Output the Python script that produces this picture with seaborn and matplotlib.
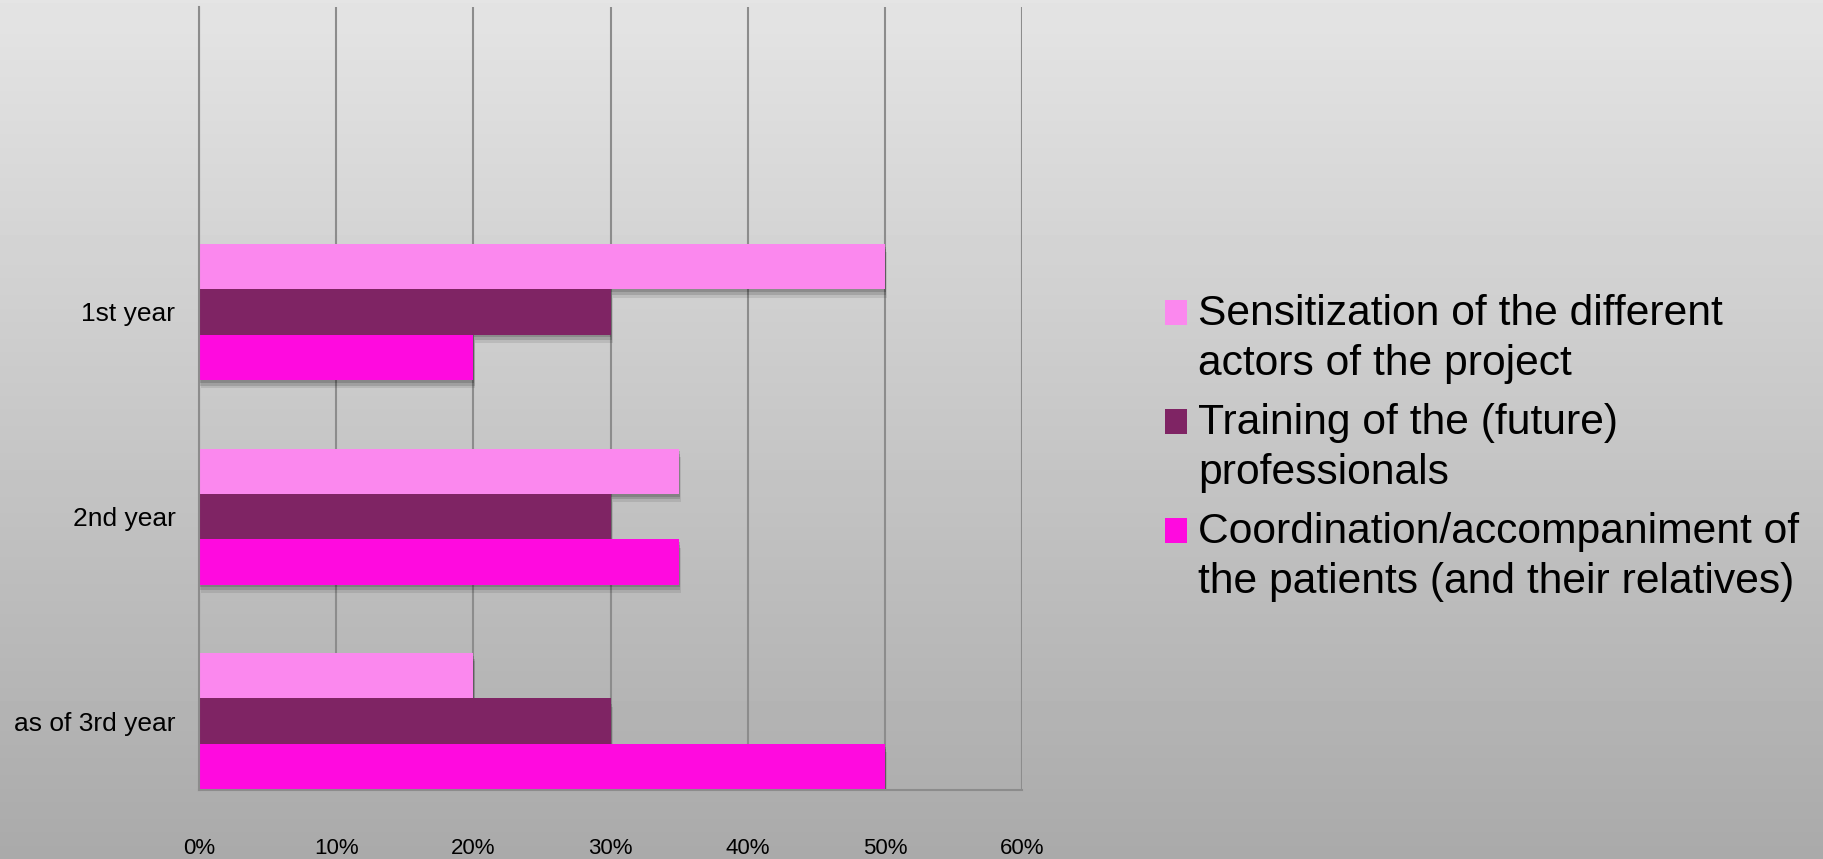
import numpy as np
import pandas as pd
import seaborn as sns
import matplotlib.pyplot as plt
from matplotlib import patheffects as pe
from matplotlib.patches import Patch, Rectangle
from matplotlib.legend_handler import HandlerPatch

categories = ["1st year", "2nd year", "as of 3rd year"]
series_names = [
    "Sensitization of the different\nactors of the project",
    "Training of the (future)\nprofessionals",
    "Coordination/accompaniment of\nthe patients (and their relatives)",
]
sensitization = [50, 35, 20]
training = [30, 30, 30]
coordination = [20, 35, 50]
colors = ["#FB88EE", "#7F2464", "#FF0ADF"]
x_ticks = [0, 10, 20, 30, 40, 50, 60]
x_tick_labels = ["0%", "10%", "20%", "30%", "40%", "50%", "60%"]

rows = []
for name, vals in zip(series_names, [sensitization, training, coordination]):
    for c, v in zip(categories, vals):
        rows.append({"year": c, "series": name, "value": v})
df = pd.DataFrame(rows)

sns.set_style("white")
plt.rcParams["font.family"] = ["Liberation Sans", "DejaVu Sans"]

fig = plt.figure(figsize=(18.23, 8.59), dpi=100)
bg = fig.add_axes([0, 0, 1, 1], zorder=-10)
grad = np.linspace(0.895, 0.665, 256).reshape(-1, 1)
bg.imshow(grad, aspect="auto", cmap="gray", vmin=0, vmax=1, extent=[0, 1, 0, 1], origin="upper")
bg.axis("off")

ax = fig.add_axes([0.1092, 0.0803, 0.4514, 0.9116])
ax.patch.set_alpha(0)
sns.barplot(data=df, x="value", y="year", hue="series", order=categories,
            hue_order=series_names, palette=colors, orient="h", width=0.665,
            saturation=1, gap=0, ax=ax, legend=False)
shadow = [pe.SimplePatchShadow(offset=(0.5, -2), shadow_rgbFace="k", alpha=0.15),
          pe.SimplePatchShadow(offset=(1, -4), shadow_rgbFace="k", alpha=0.13),
          pe.SimplePatchShadow(offset=(1.5, -6), shadow_rgbFace="k", alpha=0.09),
          pe.Normal()]
for p in ax.patches:
    p.set_linewidth(0)
    p.set_path_effects(shadow)

ax.set_xlim(0, 60)
ax.set_xticks(x_ticks)
ax.set_xticklabels(x_tick_labels)
ax.set_ylim(2.337, -1.491)
ax.set_xlabel("")
ax.set_ylabel("")
ax.xaxis.grid(True, color="#8C8C8C", linewidth=1.5)
ax.yaxis.grid(False)
ax.set_axisbelow(True)
for s in ["top", "right"]:
    ax.spines[s].set_visible(False)
for s in ["left", "bottom"]:
    ax.spines[s].set_color("#8C8C8C")
    ax.spines[s].set_linewidth(1.5)
ax.tick_params(axis="x", length=0, pad=34.5, labelsize=16, labelcolor="black")
ax.tick_params(axis="y", length=0, pad=17, labelsize=19, labelcolor="black")


def top_square(legend, orig_handle, xdescent, ydescent, width, height, fontsize):
    return Rectangle((-xdescent, -ydescent + 0.63 * fontsize), width, height)


handles = [Patch(facecolor=c, edgecolor="none") for c in colors]
leg = fig.legend(handles, series_names, loc="upper left", bbox_to_anchor=(1165 / 1823, 1 - 294 / 859),
                 frameon=False, fontsize=30.7, handlelength=0.52, handleheight=0.54,
                 handletextpad=0.25, labelspacing=0.44, borderpad=0, borderaxespad=0,
                 labelcolor="black",
                 handler_map={Patch: HandlerPatch(patch_func=top_square)})
for t in leg.get_texts():
    t.set_linespacing(1.33)

fig.savefig("out.png", dpi=100)
